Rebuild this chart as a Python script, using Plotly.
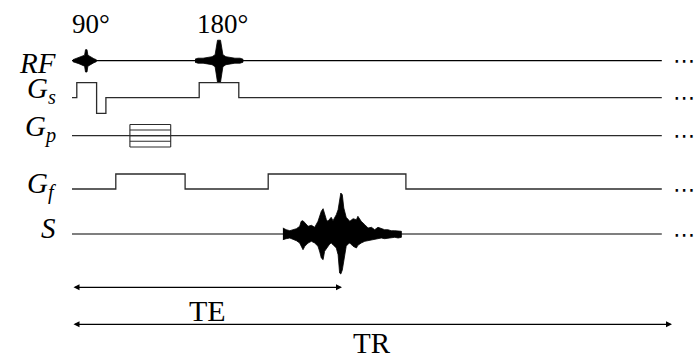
import plotly.graph_objects as go

# ---------------- data (time in a.u., 1 a.u. = 1/200 of TR) ----------------
TE = 90
TR = 200
SEQ_END = 196.6

# slice-select gradient (step edges)
gs_t = [0, 1.6, 8.2, 11.3, 42.4, 55.6, SEQ_END]
gs_amp = [0, 1, -1.04, 0, 1, 0, 0]

# frequency-encode gradient
gf_t = [0, 14.6, 37.7, 65.4, 111.3, SEQ_END]
gf_amp = [0, 1, 0, 1, 0, 0]

# phase-encode table
gp_t = [0, SEQ_END]
gp_table_t = [19.3, 32.9]
gp_levels = [0.75, 0.375, 0, -0.375, -0.75]

# RF pulses (envelope, upper / lower)
rf90_t = [0.3, 1.3, 2.3, 3.3, 4.2, 4.5, 5.0, 5.3, 6.3, 7.3, 8.1]
rf90_up = [1.0, 2.0, 3.0, 4.0, 5.5, 11.0, 11.0, 5.5, 3.5, 2.0, 1.0]
rf90_dn = [1.0, 2.0, 3.0, 4.0, 5.5, 11.3, 11.3, 5.5, 3.5, 2.0, 1.0]

rf180_t = [41.0, 42.0, 43.7, 45.3, 46.7, 47.7, 48.5, 49.5, 50.3, 51.3, 52.7, 54.3, 56.0, 57.0]
rf180_up = [1.5, 2.5, 2.5, 3.0, 4.0, 6.0, 20.5, 20.5, 6.0, 4.0, 3.0, 2.5, 2.5, 1.5]
rf180_dn = [1.5, 2.5, 2.5, 3.0, 4.0, 6.0, 21.5, 21.5, 6.0, 4.0, 3.0, 2.5, 2.5, 1.5]

# echo signal envelope
echo_t = [70.3, 71.4, 72.6, 73.7, 74.8, 75.9, 76.4, 77.0, 77.6, 78.7, 79.8, 80.9,
          82.0, 82.6, 83.1, 83.7, 84.2, 84.8, 85.3, 85.9, 86.4, 87.0, 88.1, 88.7,
          89.2, 89.6, 90.1, 90.6, 91.4, 92.0, 92.6, 93.7, 94.8, 95.3, 95.9, 96.4,
          97.6, 98.7, 99.8, 100.9, 102.0, 103.1, 104.2, 105.3, 106.4, 107.6, 108.7, 109.8]
echo_up = [6.0, 4.3, 3.3, 4.3, 5.3, 7.7, 12.7, 13.3, 11.0, 7.7, 8.7, 6.7,
           12.7, 17.7, 22.7, 25.3, 20.0, 14.3, 12.7, 15.3, 16.7, 13.3, 19.3, 24.3,
           32.7, 41.0, 39.3, 26.0, 16.7, 14.3, 12.7, 15.3, 14.3, 17.7, 14.3, 12.7,
           9.3, 6.0, 6.7, 4.3, 6.7, 5.3, 4.3, 4.3, 3.3, 3.3, 2.7, 2.7]
echo_dn = [5.7, 4.7, 4.0, 5.7, 6.7, 9.0, 12.0, 15.7, 12.3, 9.0, 7.3, 9.0,
           12.3, 18.0, 24.0, 25.7, 17.3, 14.0, 12.3, 10.0, 9.0, 10.7, 14.0, 20.7,
           39.0, 40.0, 36.0, 25.7, 12.3, 10.0, 9.0, 12.3, 14.0, 11.3, 10.0, 9.0,
           7.3, 6.7, 5.7, 5.7, 4.7, 4.0, 4.7, 4.0, 4.0, 3.3, 4.0, 3.3]

channel_labels = ["<i>RF</i>", "<i>G<sub>s</sub></i>", "<i>G<sub>p</sub></i>",
                  "<i>G<sub>f</sub></i>", "<i>S</i>"]
flip_labels = ["90°", "180°"]
interval_labels = ["TE", "TR"]

# ---------------- layout constants ----------------
W, H = 695, 361
X0_PX, PX_PER_T = 72, 3.0
Y_RF, Y_GS, Y_GP, Y_GF, Y_S = 300.3, 263.3, 225.3, 172.0, 127.0
Y_TE, Y_TR = 73.7, 36.7
G_SCALE = 15.0
BLACK = "#000000"
GRAD = "#2b2b2b"

fig = go.Figure()


def line(x, y, color=BLACK, width=1.2, shape="linear"):
    fig.add_trace(go.Scatter(x=x, y=y, mode="lines", line=dict(color=color, width=width, shape=shape),
                             hoverinfo="skip", showlegend=False))


def blob(t, up, dn, base):
    xs = list(t) + list(reversed(t))
    ys = [base + u for u in up] + [base - d for d in reversed(dn)]
    fig.add_trace(go.Scatter(x=xs, y=ys, mode="lines", fill="toself", fillcolor=BLACK,
                             line=dict(color=BLACK, width=0.8), hoverinfo="skip", showlegend=False))


# RF
line([0, SEQ_END], [Y_RF, Y_RF])
blob(rf90_t, rf90_up, rf90_dn, Y_RF)
blob(rf180_t, rf180_up, rf180_dn, Y_RF)

# Gs
line(gs_t, [Y_GS + a * G_SCALE for a in gs_amp], color=GRAD, width=1.3, shape="hv")

# Gp
line(gp_t, [Y_GP, Y_GP], color=GRAD, width=1.3)
for lv in gp_levels:
    line(gp_table_t, [Y_GP + lv * G_SCALE] * 2, color=GRAD, width=1.1)
for tt in gp_table_t:
    line([tt, tt], [Y_GP + max(gp_levels) * G_SCALE, Y_GP + min(gp_levels) * G_SCALE], color=GRAD, width=1.1)

# Gf
line(gf_t, [Y_GF + a * G_SCALE for a in gf_amp], color=GRAD, width=1.3, shape="hv")

# Signal
line([0, SEQ_END], [Y_S, Y_S])
blob(echo_t, echo_up, echo_dn, Y_S)

serif = "Liberation Serif"
ann = []
label_y = [Y_RF - 2, Y_GS + 8, Y_GP + 7, Y_GF + 4, Y_S + 6]
for lab, yy in zip(channel_labels, label_y):
    ann.append(dict(x=-4.7, y=yy, text=lab, showarrow=False, xanchor="right", yanchor="middle",
                    font=dict(family=serif, size=29, color=BLACK)))
for lab, tt in zip(flip_labels, [rf90_t[5], rf180_t[6]]):
    ann.append(dict(x=tt, y=337, text=lab, showarrow=False, xanchor="center", yanchor="middle", xshift=5,
                    font=dict(family=serif, size=27, color=BLACK)))
# dots
for yy in [Y_RF, Y_GS, Y_GP, Y_GF, Y_S]:
    ann.append(dict(x=204, y=yy, text="⋯", showarrow=False, xanchor="center", yanchor="middle",
                    font=dict(family="DejaVu Sans", size=22, color=BLACK)))
# arrows
for val, yy in [(TE, Y_TE), (TR, Y_TR)]:
    ann.append(dict(x=val, y=yy, ax=0, ay=yy, axref="x", ayref="y", xref="x", yref="y", text="",
                    showarrow=True, arrowhead=2, startarrowhead=2, arrowside="end+start",
                    arrowsize=1.0, arrowwidth=1.2, arrowcolor=BLACK, startarrowsize=1.0))
ann.append(dict(x=TE / 2, y=51, text=interval_labels[0], showarrow=False, xanchor="center", yanchor="middle",
                font=dict(family=serif, size=30, color=BLACK)))
ann.append(dict(x=TR / 2, y=0, text=interval_labels[1], showarrow=False, xanchor="center", yanchor="bottom",
                font=dict(family=serif, size=29, color=BLACK)))

fig.update_layout(
    width=W, height=H, autosize=False,
    margin=dict(l=0, r=0, t=0, b=0),
    paper_bgcolor="white", plot_bgcolor="white",
    xaxis=dict(range=[-X0_PX / PX_PER_T, (W - X0_PX) / PX_PER_T], visible=False, fixedrange=True),
    yaxis=dict(range=[0, H], visible=False, fixedrange=True),
    annotations=ann,
    showlegend=False,
)
fig.write_html("out.html", config={"displayModeBar": False},
               post_script="document.body.style.margin='0';document.body.style.overflow='hidden';")
